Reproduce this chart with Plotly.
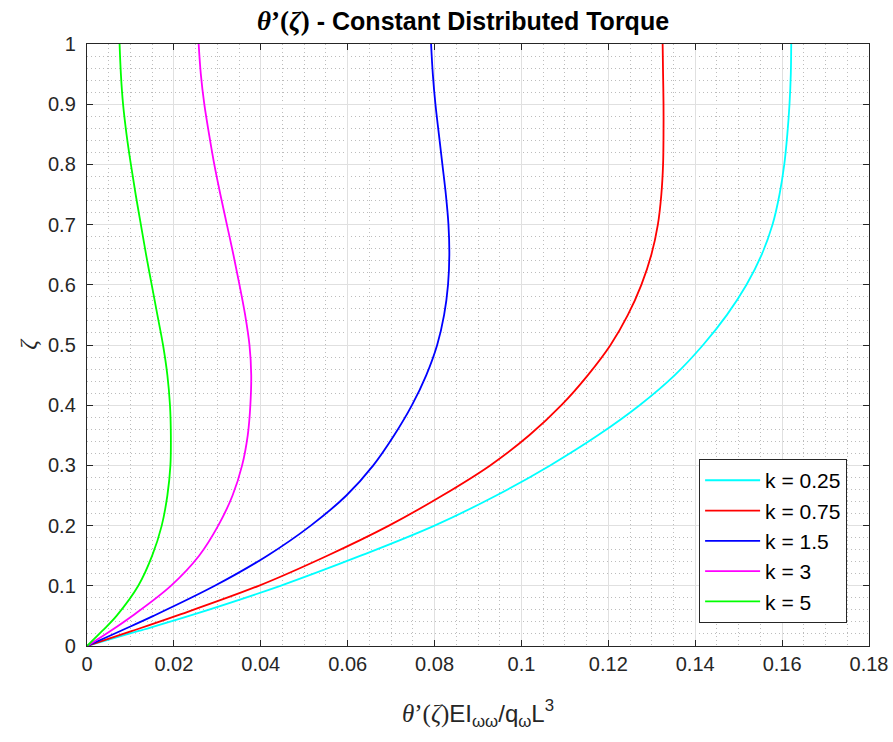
import plotly.graph_objects as go

# Normalised position along the member
zeta = [0, 0.025, 0.05, 0.1, 0.15, 0.2, 0.25, 0.3, 0.35, 0.4, 0.45, 0.5,
        0.55, 0.6, 0.65, 0.7, 0.75, 0.8, 0.85, 0.9, 0.95, 1.0]

# Dimensionless rate of twist theta'(zeta) EI_ww / (q_w L^3) for each k
theta_k025 = [0, 0.0119, 0.0235, 0.0445, 0.0630, 0.0800, 0.0942, 0.1066, 0.1176, 0.1272,
              0.1353, 0.1418, 0.1473, 0.1518, 0.1553, 0.1578, 0.1594, 0.1605, 0.1612,
              0.1617, 0.1620, 0.1621]
theta_k075 = [0, 0.0104, 0.0205, 0.0395, 0.0553, 0.0695, 0.0818, 0.0928, 0.1018, 0.1092,
              0.1153, 0.1205, 0.1245, 0.1276, 0.1299, 0.1314, 0.1322, 0.1326, 0.1327,
              0.1327, 0.1326, 0.1325]
theta_k15 = [0, 0.0077, 0.0153, 0.0294, 0.0415, 0.0515, 0.0597, 0.0659, 0.0707, 0.0748,
             0.0781, 0.0806, 0.0822, 0.0831, 0.0834, 0.0832, 0.0826, 0.0818, 0.0810,
             0.0802, 0.0796, 0.0792]
theta_k3 = [0, 0.0054, 0.0104, 0.0193, 0.0258, 0.0302, 0.0335, 0.0357, 0.0370, 0.0376,
            0.0378, 0.0374, 0.0364, 0.0351, 0.0337, 0.0322, 0.0307, 0.0293, 0.0281,
            0.0270, 0.0262, 0.0257]
theta_k5 = [0, 0.0035, 0.0068, 0.0118, 0.0150, 0.0172, 0.0185, 0.0192, 0.0193, 0.0191,
            0.0185, 0.0175, 0.0162, 0.0149, 0.0136, 0.0124, 0.0112, 0.0101, 0.0091,
            0.0083, 0.0078, 0.0075]

series = [
    ("k = 0.25", theta_k025, "#00FFFF"),
    ("k = 0.75", theta_k075, "#FF0000"),
    ("k = 1.5", theta_k15, "#0000FF"),
    ("k = 3", theta_k3, "#FF00FF"),
    ("k = 5", theta_k5, "#00FF00"),
]

fig = go.Figure()
for name, vals, color in series:
    fig.add_trace(go.Scatter(
        x=vals, y=zeta, mode="lines", name=name, legendgroup=name,
        line=dict(color=color, width=1.8, shape="spline", smoothing=1.0),
    ))

axis_col = "#262626"
font_main = "Liberation Sans, Arial, sans-serif"
serif = "Liberation Serif"

common_axis = dict(
    showline=True, linecolor=axis_col, linewidth=1.4, mirror="allticks",
    ticks="inside", ticklen=6, tickcolor=axis_col, tickwidth=1.4,
    showgrid=True, gridcolor="#e0e0e0", gridwidth=1,
    zeroline=False,
    tickfont=dict(family=font_main, size=20, color=axis_col),
)

fig.update_xaxes(
    range=[0, 0.18], tick0=0, dtick=0.02,
    minor=dict(dtick=0.005, showgrid=True, gridcolor="#bcbcbc",
               griddash="1px,3px", gridwidth=1),
    title=dict(
        text=f'<span style="font-family:{serif};font-size:25px"><i>θ</i>’(<i>ζ</i>)</span>EI<sub>ωω</sub>/q<sub>ω</sub>L<sup>3</sup>',
        font=dict(family=font_main, size=24, color=axis_col), standoff=30),
    **common_axis,
)
fig.update_yaxes(
    range=[0, 1], tick0=0, dtick=0.1,
    minor=dict(dtick=0.02, showgrid=True, gridcolor="#bcbcbc",
               griddash="1px,3px", gridwidth=1),
    ticklabelstandoff=6,
    title=dict(text="<i>ζ</i>", font=dict(family=serif, size=24, color=axis_col), standoff=4),
    **common_axis,
)

fig.update_layout(
    width=893, height=742,
    margin=dict(l=87, r=24, t=44, b=96, autoexpand=False),
    paper_bgcolor="white", plot_bgcolor="white",
    title=dict(
        text=f'<b><span style="font-family:{serif};font-size:27px"><i>θ</i>’(<i>ζ</i>)</span> - Constant Distributed Torque</b>',
        font=dict(family=font_main, size=25, color="black"),
        x=(463 - 87) / 782, xref="paper", xanchor="center",
        y=1 - 21 / 742, yref="container", yanchor="middle",
    ),
    legend=dict(
        x=0.972, y=0.038, xanchor="right", yanchor="bottom",
        bgcolor="white", bordercolor=axis_col, borderwidth=1,
        font=dict(family=font_main, size=21, color="black"),
        tracegroupgap=0, traceorder="grouped", itemwidth=55,
    ),
    showlegend=True,
)

fig.write_html("out.html")
